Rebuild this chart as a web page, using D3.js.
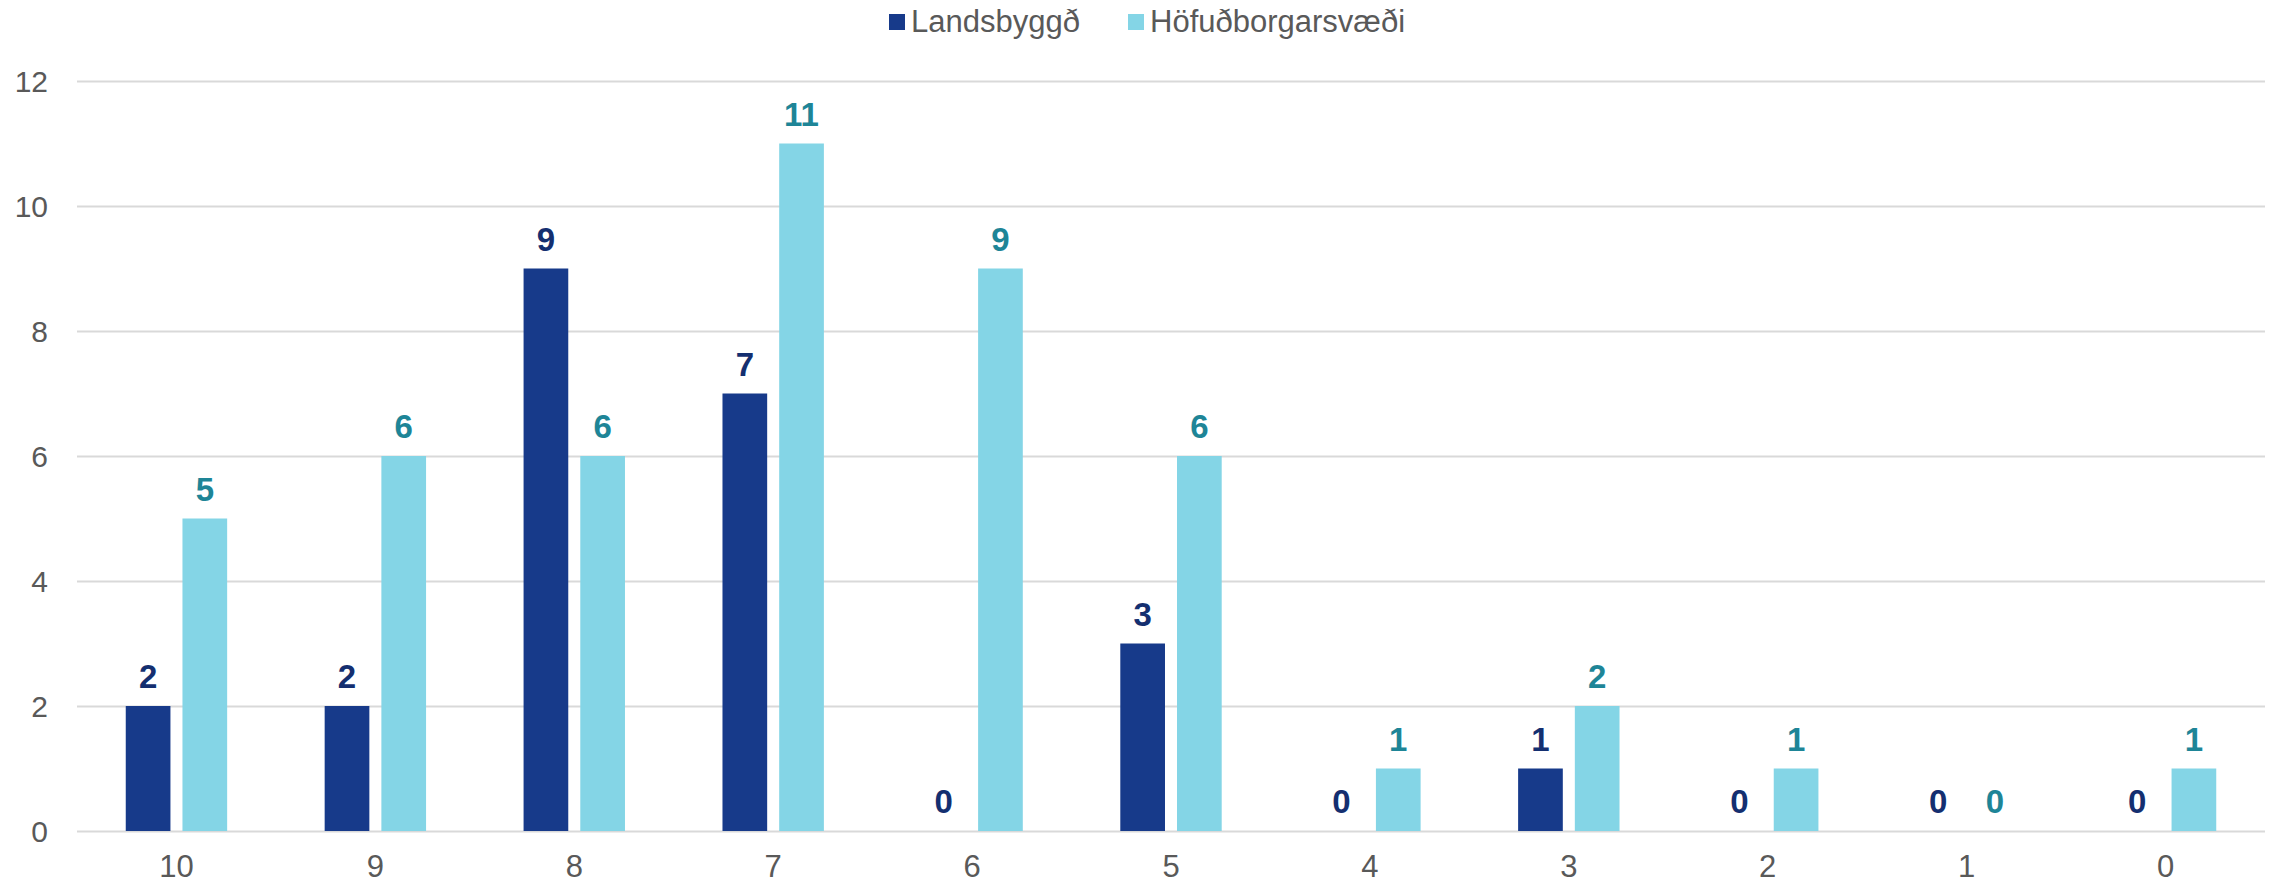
<!DOCTYPE html>
<meta charset="utf-8">
<script src="https://d3js.org/d3.v7.min.js"></script>
<style>
  body { margin: 0; background: #fff; }
  text { font-family: Arial, "Liberation Sans", sans-serif; }
</style>
<div id="my_dataviz"></div>
<script>

// data
var categories = ["10", "9", "8", "7", "6", "5", "4", "3", "2", "1", "0"];
var seriesNames = ["Landsbyggð", "Höfuðborgarsvæði"];
var landsbyggd = [2, 2, 9, 7, 0, 3, 0, 1, 0, 0, 0];
var hofudborg = [5, 6, 6, 11, 9, 6, 1, 2, 1, 0, 1];
var yTicks = [0, 2, 4, 6, 8, 10, 12];

var barColors = ["#173a8a", "#84d5e6"];
var labelColors = ["#142f70", "#1e8597"];

var width = 2272,
    height = 884;

var svg = d3.select("#my_dataviz")
  .append("svg")
  .attr("width", width)
  .attr("height", height);

// scales
var x0 = d3.scaleBand()
  .domain(categories)
  .range([77, 2265]);

var c = x0.bandwidth() / 2;
var x1 = d3.scaleBand()
  .domain(seriesNames)
  .range([c - 50.7, c + 50.7])
  .paddingInner(0.212);

var y = d3.scaleLinear()
  .domain([0, 12])
  .range([831, 81]);

// gridlines + y labels
var yAxis = svg.append("g")
  .attr("transform", "translate(77,0)")
  .call(d3.axisLeft(y).tickValues(yTicks).tickSize(-(2265 - 77)).tickPadding(29));
yAxis.select(".domain").remove();
yAxis.selectAll("line").attr("stroke", "#d9d9d9").attr("stroke-width", 2);
yAxis.selectAll("text")
  .attr("fill", "#595959")
  .style("font-size", "30px")
  .attr("dy", "0.36em");

// x labels
var xAxis = svg.append("g")
  .attr("transform", "translate(0,831)")
  .call(d3.axisBottom(x0).tickSize(0).tickPadding(24));
xAxis.select(".domain").remove();
xAxis.selectAll("text")
  .attr("fill", "#595959")
  .style("font-size", "31px");

// build rows
var rows = categories.map(function(cat, i) {
  return { cat: cat, values: [
    { key: seriesNames[0], value: landsbyggd[i], s: 0 },
    { key: seriesNames[1], value: hofudborg[i], s: 1 }
  ]};
});

var groups = svg.selectAll(".group")
  .data(rows)
  .enter()
  .append("g")
  .attr("class", "group")
  .attr("transform", function(d) { return "translate(" + x0(d.cat) + ",0)"; });

groups.selectAll("rect")
  .data(function(d) { return d.values; })
  .enter()
  .append("rect")
  .attr("x", function(d) { return x1(d.key); })
  .attr("width", x1.bandwidth())
  .attr("y", function(d) { return y(d.value); })
  .attr("height", function(d) { return y(0) - y(d.value); })
  .attr("fill", function(d) { return barColors[d.s]; });

groups.selectAll(".lbl")
  .data(function(d) { return d.values; })
  .enter()
  .append("text")
  .attr("class", "lbl")
  .attr("x", function(d) { return x1(d.key) + x1.bandwidth() / 2; })
  .attr("y", function(d) { return y(d.value) - 18; })
  .attr("text-anchor", "middle")
  .attr("fill", function(d) { return labelColors[d.s]; })
  .style("font-size", "33px")
  .style("font-weight", "bold")
  .text(function(d) { return d.value; });

// legend
var legendX = [889, 1128];
var legend = svg.selectAll(".legend")
  .data(seriesNames)
  .enter()
  .append("g")
  .attr("class", "legend")
  .attr("transform", function(d, i) { return "translate(" + legendX[i] + ",0)"; });

legend.append("rect")
  .attr("y", 14)
  .attr("width", 16)
  .attr("height", 16)
  .attr("fill", function(d, i) { return barColors[i]; });

legend.append("text")
  .attr("x", 22)
  .attr("y", 32)
  .attr("fill", "#595959")
  .style("font-size", "31px")
  .text(function(d) { return d; });

</script>
